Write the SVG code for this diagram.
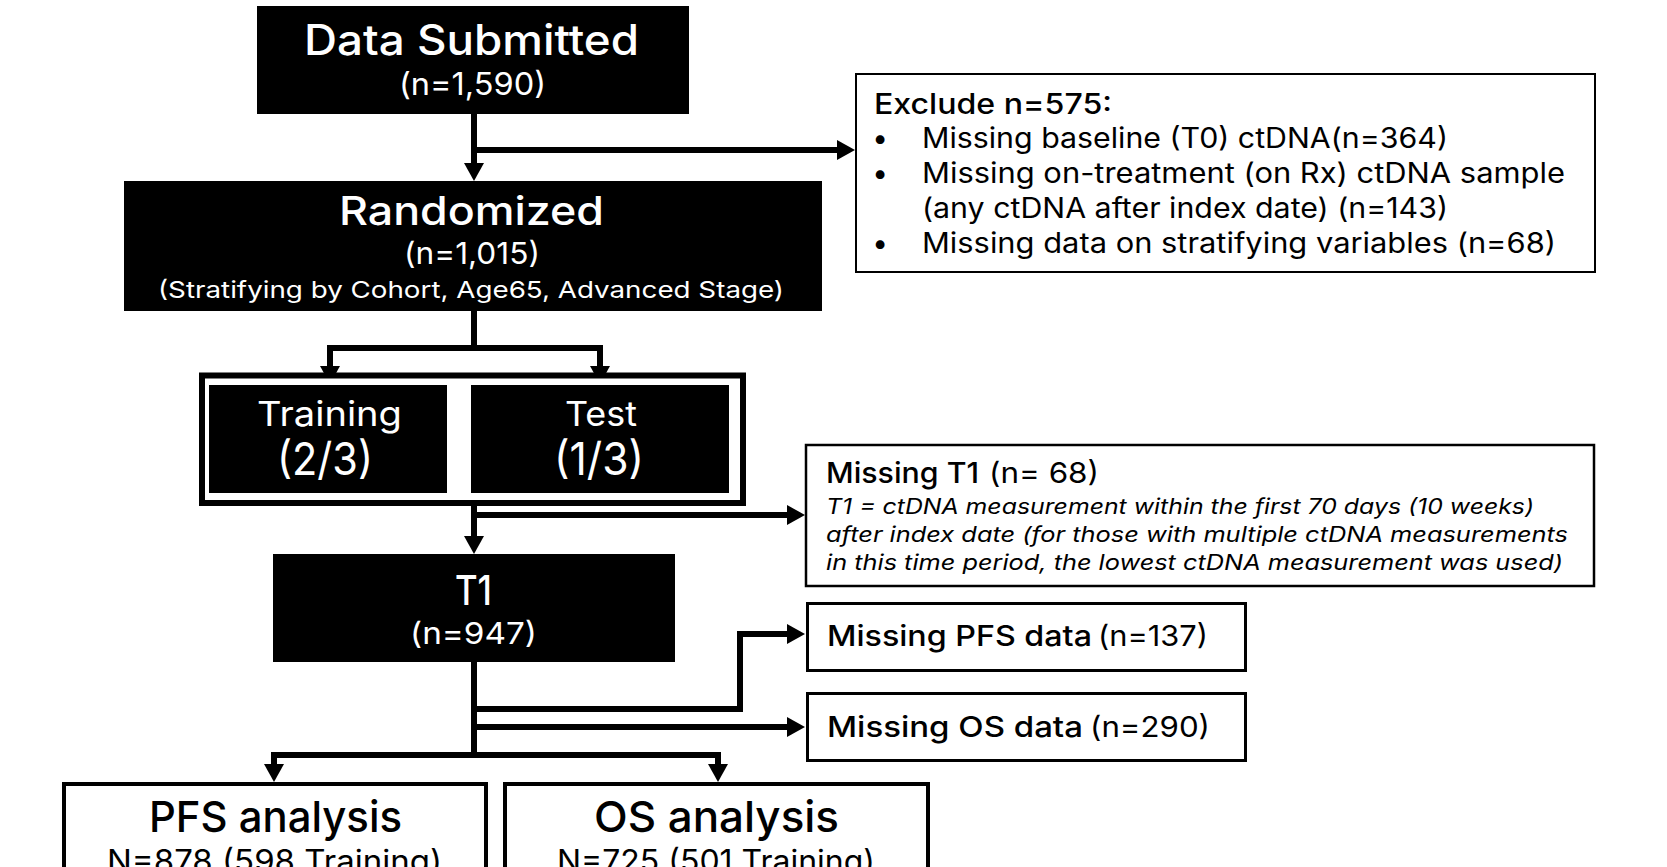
<svg xmlns="http://www.w3.org/2000/svg" width="1667" height="867" viewBox="0 0 1667 867">
<defs>
<marker id="ah" markerUnits="userSpaceOnUse" markerWidth="20" markerHeight="20" refX="1" refY="10" orient="auto">
<path d="M0,0 L18,10 L0,20 Z" fill="#000"/>
</marker>
<style>
text{font-family:Inter,"Liberation Sans",sans-serif;}
.w{fill:#fff;}
.k{fill:#000;}
.m{font-weight:500;}
.r{font-weight:400;}
.it{font-style:italic;font-weight:400;}
.blk{fill:#000;}
.wb{fill:#fff;stroke:#000;}
.ca{fill:none;stroke:#000;stroke-width:6;stroke-linejoin:miter;marker-end:url(#ah);}
</style>
</defs>
<rect x="0" y="0" width="1667" height="867" fill="#fff"/>

<g id="connectors">
<path class="ca" d="M474,114 V164"/>
<path class="ca" d="M474,150 H838"/>
<path class="ca" d="M474,311 V348 H330 V367"/>
<path class="ca" d="M474,348 H600 V367"/>
<path class="ca" d="M474,506 V537"/>
<path class="ca" d="M474,515 H788"/>
<path class="ca" d="M474,662 V755 H274 V765"/>
<path class="ca" d="M474,755 H718 V765"/>
<path class="ca" d="M474,709 H740 V634 H788"/>
<path class="ca" d="M474,727 H788"/>
</g>

<g id="data-submitted">
<rect class="blk" x="257" y="6" width="432" height="108"/>
<text class="w m" x="304" y="55" font-size="42" textLength="335" lengthAdjust="spacingAndGlyphs">Data Submitted</text>
<text class="w r" x="399" y="95" font-size="31" textLength="147" lengthAdjust="spacingAndGlyphs">(n=1,590)</text>
</g>

<g id="exclude">
<rect class="wb" x="856" y="74" width="739" height="198" stroke-width="2"/>
<text class="k m" x="874" y="114" font-size="28" textLength="238" lengthAdjust="spacingAndGlyphs">Exclude n=575:</text>
<text class="k r" x="880" y="148" font-size="28" text-anchor="middle">•</text>
<text class="k r" x="922" y="148" font-size="28" textLength="526" lengthAdjust="spacingAndGlyphs">Missing baseline (T0) ctDNA(n=364)</text>
<text class="k r" x="880" y="183" font-size="28" text-anchor="middle">•</text>
<text class="k r" x="922" y="183" font-size="28" textLength="643" lengthAdjust="spacingAndGlyphs">Missing on-treatment (on Rx) ctDNA sample</text>
<text class="k r" x="922" y="218" font-size="28" textLength="526" lengthAdjust="spacingAndGlyphs">(any ctDNA after index date) (n=143)</text>
<text class="k r" x="880" y="253" font-size="28" text-anchor="middle">•</text>
<text class="k r" x="922" y="253" font-size="28" textLength="634" lengthAdjust="spacingAndGlyphs">Missing data on stratifying variables (n=68)</text>
</g>

<g id="randomized">
<rect class="blk" x="124" y="181" width="698" height="130"/>
<text class="w m" x="339" y="225" font-size="39" textLength="265" lengthAdjust="spacingAndGlyphs">Randomized</text>
<text class="w r" x="404" y="264" font-size="30" textLength="136" lengthAdjust="spacingAndGlyphs">(n=1,015)</text>
<text class="w r" x="158" y="298" font-size="23.5" textLength="626" lengthAdjust="spacingAndGlyphs">(Stratifying by Cohort, Age65, Advanced Stage)</text>
</g>

<g id="split-frame">
<rect class="wb" x="202" y="375.5" width="541" height="127.5" stroke-width="6"/>
</g>

<g id="training">
<rect class="blk" x="209" y="385" width="238" height="108"/>
<text class="w r" x="257" y="426" font-size="34" textLength="145" lengthAdjust="spacingAndGlyphs">Training</text>
<text class="w r" x="277" y="475" font-size="45" textLength="96" lengthAdjust="spacingAndGlyphs">(2/3)</text>
</g>

<g id="test">
<rect class="blk" x="471" y="385" width="258" height="108"/>
<text class="w r" x="565" y="426" font-size="34" textLength="72" lengthAdjust="spacingAndGlyphs">Test</text>
<text class="w r" x="554" y="475" font-size="45" textLength="90" lengthAdjust="spacingAndGlyphs">(1/3)</text>
</g>

<g id="missing-t1">
<rect class="wb" x="806" y="445" width="788" height="141" stroke-width="2.5"/>
<text class="k m" x="826" y="483" font-size="29" textLength="153" lengthAdjust="spacingAndGlyphs">Missing T1</text>
<text class="k r" x="989" y="483" font-size="29" textLength="110" lengthAdjust="spacingAndGlyphs">(n= 68)</text>
<text class="k it" x="826" y="514" font-size="21" textLength="708" lengthAdjust="spacingAndGlyphs">T1 = ctDNA measurement within the first 70 days (10 weeks)</text>
<text class="k it" x="826" y="542" font-size="21" textLength="742" lengthAdjust="spacingAndGlyphs">after index date (for those with multiple ctDNA measurements</text>
<text class="k it" x="826" y="570" font-size="21" textLength="737" lengthAdjust="spacingAndGlyphs">in this time period, the lowest ctDNA measurement was used)</text>
</g>

<g id="t1">
<rect class="blk" x="273" y="554" width="402" height="108"/>
<text class="w m" x="455" y="605" font-size="41" textLength="37" lengthAdjust="spacingAndGlyphs">T1</text>
<text class="w r" x="410" y="644" font-size="30" textLength="127" lengthAdjust="spacingAndGlyphs">(n=947)</text>
</g>

<g id="missing-pfs">
<rect class="wb" x="807.5" y="603.5" width="438" height="67" stroke-width="3"/>
<text class="k m" x="827" y="646" font-size="29" textLength="265" lengthAdjust="spacingAndGlyphs">Missing PFS data</text>
<text class="k r" x="1098" y="646" font-size="29" textLength="110" lengthAdjust="spacingAndGlyphs">(n=137)</text>
</g>

<g id="missing-os">
<rect class="wb" x="807.5" y="693.5" width="438" height="67" stroke-width="3"/>
<text class="k m" x="827" y="737" font-size="29" textLength="256" lengthAdjust="spacingAndGlyphs">Missing OS data</text>
<text class="k r" x="1090" y="737" font-size="29" textLength="120" lengthAdjust="spacingAndGlyphs">(n=290)</text>
</g>

<g id="pfs-analysis">
<rect class="wb" x="64" y="784" width="422" height="120" stroke-width="4"/>
<text class="k m" x="149" y="832" font-size="43" textLength="253" lengthAdjust="spacingAndGlyphs">PFS analysis</text>
<text class="k r" x="107" y="872" font-size="31" textLength="335" lengthAdjust="spacingAndGlyphs">N=878 (598 Training)</text>
</g>

<g id="os-analysis">
<rect class="wb" x="505" y="784" width="423" height="120" stroke-width="4"/>
<text class="k m" x="594" y="832" font-size="43" textLength="245" lengthAdjust="spacingAndGlyphs">OS analysis</text>
<text class="k r" x="557" y="872" font-size="31" textLength="318" lengthAdjust="spacingAndGlyphs">N=725 (501 Training)</text>
</g>
</svg>
